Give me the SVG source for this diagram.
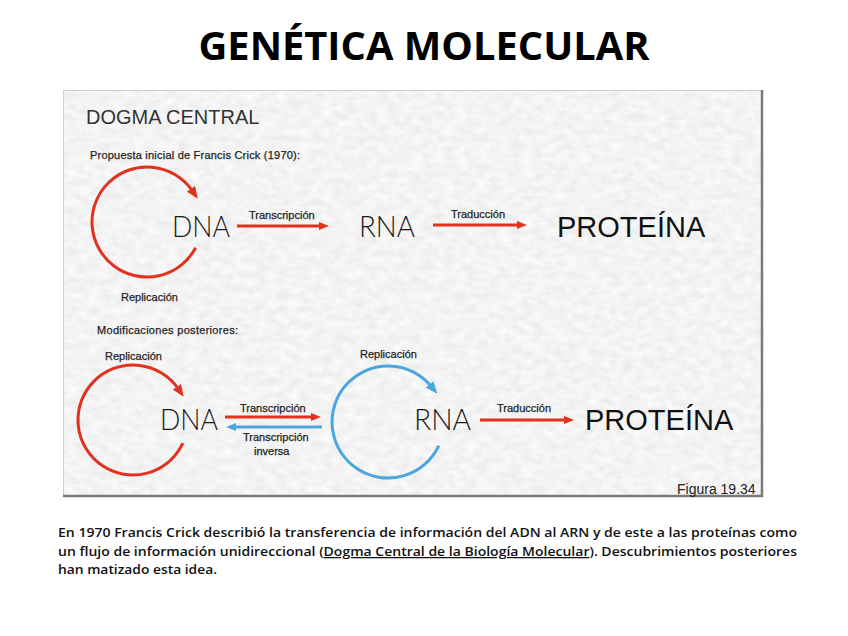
<svg xmlns="http://www.w3.org/2000/svg" width="848" height="636" viewBox="0 0 848 636">
<defs>
<style>
.lbl{font-family:"Liberation Sans",Arial,sans-serif;font-size:11px;fill:#1e1e1e;stroke:#1e1e1e;stroke-width:0.25}
.big{font-family:"Lato","Liberation Sans",sans-serif;font-weight:300;font-size:30px;fill:#1a1a1a}
.prot{font-family:"Liberation Sans",Arial,sans-serif;font-size:29px;fill:#111}
.red{stroke:#e2321f;stroke-width:3;fill:none}
.blue{stroke:#4aa6df;stroke-width:3;fill:none}
.body{font-family:"Open Sans","Liberation Sans",sans-serif;font-weight:600;font-size:12.5px;fill:#111}
</style>
<filter id="tex" x="0" y="0" width="100%" height="100%">
<feTurbulence type="fractalNoise" baseFrequency="0.09 0.14" numOctaves="3" seed="7" result="n"/>
<feColorMatrix in="n" type="matrix" values="0.2 0 0 0 0.8  0.2 0 0 0 0.8  0.2 0 0 0 0.8  0 0 0 0 1" result="g"/>
<feComposite in="g" in2="SourceGraphic" operator="in"/>
</filter>
<marker id="ar" markerWidth="12" markerHeight="10" refX="2" refY="5" orient="auto" markerUnits="userSpaceOnUse"><path d="M0,0 L12,5 L0,10 Z" fill="#e2321f"/></marker>
<marker id="ab" markerWidth="12" markerHeight="10" refX="2" refY="5" orient="auto" markerUnits="userSpaceOnUse"><path d="M0,0 L12,5 L0,10 Z" fill="#4aa6df"/></marker>
<marker id="sr" markerWidth="10" markerHeight="8" refX="1" refY="4" orient="auto" markerUnits="userSpaceOnUse"><path d="M0,0 L10,4 L0,8 Z" fill="#e2321f"/></marker>
<marker id="sb" markerWidth="10" markerHeight="8" refX="1" refY="4" orient="auto" markerUnits="userSpaceOnUse"><path d="M0,0 L10,4 L0,8 Z" fill="#4aa6df"/></marker>
</defs>
<rect width="848" height="636" fill="#fff"/>
<text x="424" y="60" text-anchor="middle" font-family="Open Sans, Liberation Sans, sans-serif" font-weight="700" font-size="39" textLength="451" lengthAdjust="spacingAndGlyphs" fill="#000">GENÉTICA MOLECULAR</text>
<g id="panel">
<rect x="63" y="90" width="700" height="407" fill="#e6e6e6" filter="url(#tex)"/>
<rect x="63.5" y="90.5" width="699" height="406" fill="none" stroke="#d0d0d0" stroke-width="1"/>
<polyline points="762,90 762,496 63,496" fill="none" stroke="#7a7a7a" stroke-width="2.5"/>
<text x="86" y="124" font-family="Liberation Sans, Arial, sans-serif" font-size="20" fill="#333">DOGMA CENTRAL</text>
<text x="90" y="159" class="lbl" font-size="10.5" textLength="210">Propuesta inicial de Francis Crick (1970):</text>
<text x="97" y="334" class="lbl" font-size="10.5" textLength="141">Modificaciones posteriores:</text>
<text x="677" y="494" font-family="Liberation Sans, Arial, sans-serif" font-size="14" fill="#222">Figura 19.34</text>
</g>
<g id="connectors">
<path class="red" d="M195.6,247.8 A55,55 0 1 1 192.05,190.45" marker-end="url(#ar)"/>
<path class="red" d="M237,226 L320,226" stroke-width="2.5" marker-end="url(#sr)"/>
<path class="red" d="M433,225 L518,225" stroke-width="2.5" marker-end="url(#sr)"/>
<path class="red" d="M182.85,443.2 A55,55 0 1 1 178.05,388.45" marker-end="url(#ar)"/>
<path class="red" d="M225,417 L312,417" stroke-width="2.5" marker-end="url(#sr)"/>
<path class="blue" d="M322,427 L235,427" stroke-width="2.5" marker-end="url(#sb)"/>
<path class="blue" d="M438.8,445.7 A56,56 0 1 1 430.9,386" marker-end="url(#ab)"/>
<path class="red" d="M480,420 L565,420" stroke-width="2.5" marker-end="url(#sr)"/>
</g>
<g id="labels">
<text x="249" y="219" class="lbl">Transcripción</text>
<text x="451" y="218" class="lbl">Traducción</text>
<text x="121" y="301" class="lbl" font-size="10.5">Replicación</text>
<text x="105" y="360" class="lbl">Replicación</text>
<text x="360" y="358" class="lbl">Replicación</text>
<text x="240" y="412" class="lbl">Transcripción</text>
<text x="243" y="441" class="lbl">Transcripción</text>
<text x="254" y="455" class="lbl">inversa</text>
<text x="497" y="412" class="lbl">Traducción</text>
</g>
<g id="dna1"><text x="172" y="237" class="big" textLength="58" lengthAdjust="spacingAndGlyphs">DNA</text></g>
<g id="rna1"><text x="359" y="237" class="big" textLength="56" lengthAdjust="spacingAndGlyphs">RNA</text></g>
<g id="prot1"><text x="557" y="237" class="prot">PROTEÍNA</text></g>
<g id="dna2"><text x="160" y="430" class="big" textLength="58" lengthAdjust="spacingAndGlyphs">DNA</text></g>
<g id="rna2"><text x="414" y="430" class="big" textLength="57" lengthAdjust="spacingAndGlyphs">RNA</text></g>
<g id="prot2"><text x="585" y="430" class="prot">PROTEÍNA</text></g>
<g id="caption">
<text x="58" y="537" class="body" textLength="739" lengthAdjust="spacingAndGlyphs">En 1970 Francis Crick describió la transferencia de información del ADN al ARN y de este a las proteínas como</text>
<text x="58" y="556" class="body" textLength="739" lengthAdjust="spacingAndGlyphs">un flujo de información unidireccional (<tspan text-decoration="underline">Dogma Central de la Biología Molecular</tspan>). Descubrimientos posteriores</text>
<text x="58" y="574" class="body" textLength="159" lengthAdjust="spacingAndGlyphs">han matizado esta idea.</text>
</g>
</svg>
